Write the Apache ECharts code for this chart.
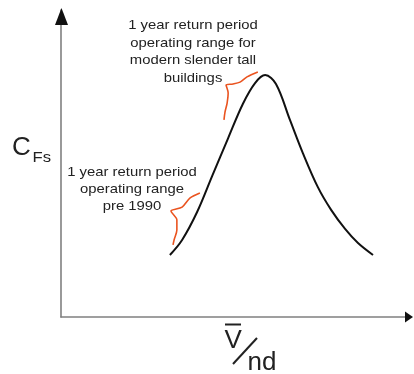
<!DOCTYPE html>
<html>
<head>
<meta charset="utf-8">
<script src="https://cdn.jsdelivr.net/npm/echarts@6/dist/echarts.min.js"></script>
<style>
  html, body { margin: 0; padding: 0; background: #fff; }
  #chart { width: 414px; height: 374px; }
</style>
</head>
<body>
<div id="chart"></div>
<script>
// curve of C_Fs against V/nd (arbitrary units)
const curveX = [3.12, 3.47, 3.90, 4.33, 4.79, 5.21, 5.56, 5.85, 6.16, 6.56, 6.93, 7.36, 7.74, 8.14, 8.51, 8.94]
const curveY = [2.02, 2.51, 3.42, 4.59, 5.83, 6.94, 7.62, 7.88, 7.59, 6.42, 5.34, 4.23, 3.49, 2.87, 2.41, 2.02]

// brace marking modern slender tall buildings range
const braceHighX = [5.64, 5.33, 5.13, 4.93, 4.73, 4.79, 4.76, 4.70, 4.67]
const braceHighY = [7.98, 7.82, 7.65, 7.59, 7.56, 7.30, 6.97, 6.68, 6.42]

// brace marking pre 1990 range
const braceLowX = [3.98, 3.70, 3.47, 3.15, 3.32, 3.32, 3.24, 3.21]
const braceLowY = [4.04, 3.88, 3.58, 3.45, 3.16, 2.83, 2.51, 2.35]

const labelHigh = '1 year return period\noperating range for\nmodern slender tall\nbuildings'
const labelLow = '1 year return period\noperating range\npre 1990'

function pairs(xs, ys) {
  return xs.map((x, i) => [x, ys[i]])
}

const chart = echarts.init(document.getElementById('chart'))
const font = 'Liberation Sans, Arial, sans-serif'
const orange = '#ea5420'
const ink = '#222'

const option = {
  animation: false,
  grid: { left: 61, top: 10, right: 4, bottom: 57 },
  xAxis: {
    type: 'value', min: 0, max: 10,
    axisLine: { onZero: false, lineStyle: { color: '#808080', width: 1.6 } },
    axisTick: { show: false }, axisLabel: { show: false }, splitLine: { show: false }
  },
  yAxis: {
    type: 'value', min: 0, max: 10,
    axisLine: { show: true, onZero: false, lineStyle: { color: '#808080', width: 1.6 } },
    axisTick: { show: false }, axisLabel: { show: false }, splitLine: { show: false }
  },
  series: [
    {
      type: 'line', data: pairs(curveX, curveY), smooth: 0.35, showSymbol: false,
      lineStyle: { color: '#111', width: 2 }
    },
    {
      type: 'line', data: pairs(braceHighX, braceHighY), smooth: 0.3, showSymbol: false,
      lineStyle: { color: orange, width: 1.6 }
    },
    {
      type: 'line', data: pairs(braceLowX, braceLowY), smooth: 0.3, showSymbol: false,
      lineStyle: { color: orange, width: 1.6 }
    }
  ],
  graphic: [
    // axis arrow heads
    { type: 'polygon', shape: { points: [[61.5, 8], [55, 25], [68, 25]] }, style: { fill: '#111' }, z: 10 },
    { type: 'polygon', shape: { points: [[413, 317], [405, 311.5], [405, 322.5]] }, style: { fill: '#111' }, z: 10 },
    // annotations (text in the sketch is a bit wider than Arial)
    {
      type: 'text', x: 193, y: 16.5, scaleX: 1.1,
      style: { text: labelHigh, font: '13.5px ' + font, fill: ink, align: 'center', lineHeight: 17.7 }
    },
    {
      type: 'text', x: 132, y: 163.5, scaleX: 1.1,
      style: { text: labelLow, font: '13.5px ' + font, fill: ink, align: 'center', lineHeight: 17 }
    },
    // y axis name C_Fs
    { type: 'text', x: 12, y: 135, style: { text: 'C', font: '26px ' + font, fill: ink } },
    { type: 'text', x: 32.5, y: 150, scaleX: 1.15, style: { text: 'Fs', font: '14.5px ' + font, fill: ink } },
    // x axis name V-bar / nd
    { type: 'text', x: 224.5, y: 328, style: { text: 'V', font: '26px ' + font, fill: ink } },
    { type: 'line', shape: { x1: 225, y1: 324.5, x2: 241, y2: 324.5 }, style: { stroke: ink, lineWidth: 2 } },
    { type: 'line', shape: { x1: 257, y1: 338, x2: 233, y2: 364 }, style: { stroke: ink, lineWidth: 2 } },
    { type: 'text', x: 247.5, y: 350, style: { text: 'nd', font: '26px ' + font, fill: ink } }
  ]
}

chart.setOption(option)
</script>
</body>
</html>
